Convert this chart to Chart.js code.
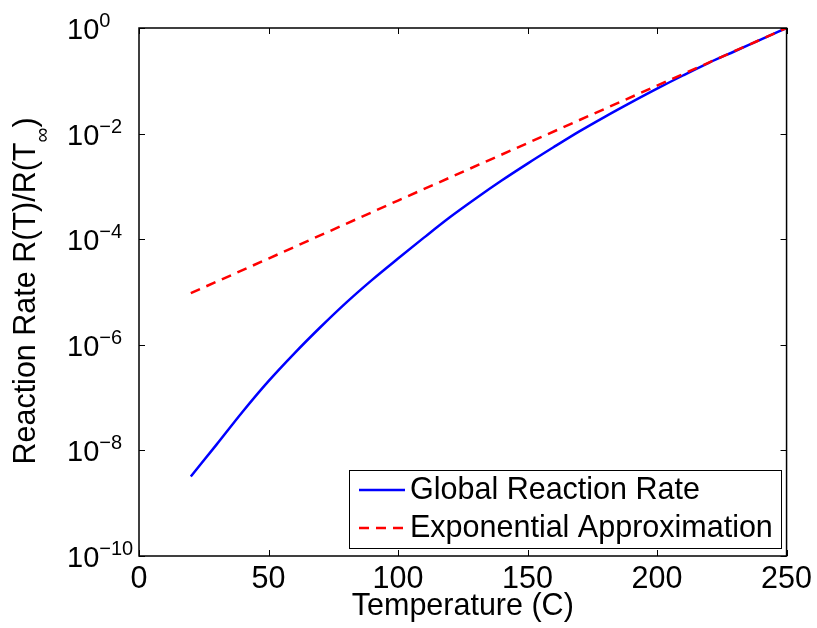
<!DOCTYPE html>
<html lang="en">
<head>
  <meta charset="UTF-8" />
  <title>Reaction Rate</title>
  <script src="https://cdn.jsdelivr.net/npm/chart.js"></script>
  <style>
    body { margin: 0; background: #fff; }
    #wrap { width: 817px; height: 628px; }
  </style>
</head>
<body>

  <div id="wrap"><canvas id="rateChart"></canvas></div>

  <script>
    // values
    const temps = [20, 30, 40, 50, 60, 70, 80, 90, 100, 110, 120, 130, 140, 150, 160, 170, 180, 190, 200, 210, 220, 230, 240, 250];
    const globalRate = [3.2e-9, 1.3e-8, 5.4e-8, 2.05e-7, 6.9e-7, 2.15e-6, 6.3e-6, 1.7e-5, 4.3e-5, 1.07e-4, 2.6e-4, 5.9e-4,
                        1.29e-3, 2.7e-3, 5.5e-3, 1.1e-2, 2.1e-2, 3.9e-2, 7.1e-2, 0.126, 0.219, 0.363, 0.603, 1];
    const approxTemps = [20, 50, 100, 150, 200, 250];
    const approxRate = [9.5e-6, 4.3e-5, 5.4e-4, 6.6e-3, 8.1e-2, 1];
    const xTicks = [0, 50, 100, 150, 200, 250];
    const yExponents = [0, -2, -4, -6, -8, -10];
    const seriesLabels = ['Global Reaction Rate', 'Exponential Approximation'];

    const FONT = '"Liberation Sans", Arial, sans-serif';
    const TXT = 30.5;

    // frame, inside ticks, y labels with exponents, y title and legend
    const matlabLook = {
      id: 'matlabLook',
      afterDraw(chart) {
        const ctx = chart.ctx;
        const a = chart.chartArea;
        const x = chart.scales.x, y = chart.scales.y;
        ctx.save();

        ctx.strokeStyle = '#000';
        ctx.lineWidth = 1;
        const seg = (x1, y1, x2, y2) => { ctx.beginPath(); ctx.moveTo(x1, y1); ctx.lineTo(x2, y2); ctx.stroke(); };
        xTicks.forEach(v => {
          const px = Math.round(x.getPixelForValue(v)) + 0.5;
          seg(px, a.bottom, px, a.bottom - 6);
          seg(px, a.top, px, a.top + 6);
        });
        yExponents.forEach(e => {
          const py = Math.round(y.getPixelForValue(Math.pow(10, e))) + 0.5;
          seg(a.left, py, a.left + 6, py);
          seg(a.right, py, a.right - 6, py);
        });
        ctx.lineWidth = 1.5;
        ctx.strokeRect(a.left, a.top, a.right - a.left, a.bottom - a.top);

        // y tick labels 10^n
        ctx.fillStyle = '#000';
        ctx.textBaseline = 'alphabetic';
        ctx.textAlign = 'left';
        yExponents.forEach(e => {
          const py = y.getPixelForValue(Math.pow(10, e));
          ctx.font = '29px ' + FONT;
          ctx.fillText('10', 67, py + 11);
          const w = ctx.measureText('10').width;
          ctx.font = '20px ' + FONT;
          ctx.fillText(e === 0 ? '0' : '\u2212' + (-e), 67 + w, py - 1);
        });

        // y axis title with subscript infinity
        const mainTxt = 'Reaction Rate R(T)/R(T';
        ctx.font = TXT + 'px ' + FONT;
        const w1 = ctx.measureText(mainTxt).width;
        const w3 = ctx.measureText(')').width;
        ctx.font = '21px ' + FONT;
        const w2 = ctx.measureText('\u221E').width;
        const total = w1 + w2 + w3;
        ctx.translate(35, 291);
        ctx.rotate(-Math.PI / 2);
        ctx.font = TXT + 'px ' + FONT;
        ctx.fillText(mainTxt, -total / 2, 0);
        ctx.font = '21px ' + FONT;
        ctx.fillText('\u221E', -total / 2 + w1, 14);
        ctx.font = TXT + 'px ' + FONT;
        ctx.fillText(')', -total / 2 + w1 + w2, 0);
        ctx.setTransform(1, 0, 0, 1, 0, 0);

        // legend box
        const bx = 349.5, by = 470.5, bw = 432, bh = 78;
        ctx.fillStyle = '#fff';
        ctx.fillRect(bx, by, bw, bh);
        ctx.lineWidth = 1;
        ctx.strokeStyle = '#000';
        ctx.strokeRect(bx, by, bw, bh);
        const rows = [490, 528];
        chart.data.datasets.forEach((ds, i) => {
          ctx.strokeStyle = ds.borderColor;
          ctx.lineWidth = ds.borderWidth;
          ctx.setLineDash(ds.borderDash || []);
          seg(359, rows[i], 405, rows[i]);
          ctx.setLineDash([]);
          ctx.fillStyle = '#000';
          ctx.font = TXT + 'px ' + FONT;
          ctx.textBaseline = 'middle';
          ctx.fillText(ds.label, 410, rows[i] + 1);
        });
        ctx.restore();
      }
    };

    const ctx = document.getElementById('rateChart').getContext('2d');
    const chart = new Chart(ctx, {
      type: 'line',
      data: {
        datasets: [
          {
            label: seriesLabels[0],
            data: temps.map((t, i) => ({ x: t, y: globalRate[i] })),
            borderColor: '#0000ff',
            borderWidth: 2.5,
            pointRadius: 0,
            cubicInterpolationMode: 'monotone',
            fill: false,
            order: 1
          },
          {
            label: seriesLabels[1],
            data: approxTemps.map((t, i) => ({ x: t, y: approxRate[i] })),
            borderColor: '#ff0000',
            borderWidth: 2.5,
            borderDash: [10, 7],
            pointRadius: 0,
            fill: false,
            order: 0
          }
        ]
      },
      options: {
        responsive: true,
        maintainAspectRatio: false,
        animation: false,
        layout: { padding: { top: 28, right: 27, left: 0, bottom: 0 } },
        plugins: {
          legend: { display: false },
          tooltip: { enabled: false }
        },
        scales: {
          x: {
            type: 'linear',
            min: 0,
            max: 250,
            afterFit: s => { s.height = 72; },
            grid: { display: false, drawTicks: false },
            border: { display: false },
            ticks: { stepSize: 50, padding: 5, color: '#000', font: { family: FONT, size: TXT } },
            title: { display: true, text: 'Temperature (C)', color: '#000', font: { family: FONT, size: TXT }, padding: { top: 0, bottom: 3 } }
          },
          y: {
            type: 'logarithmic',
            min: 1e-10,
            max: 1,
            afterFit: s => { s.width = 139; },
            afterBuildTicks: s => { s.ticks = yExponents.map(e => ({ value: Math.pow(10, e) })); },
            grid: { display: false, drawTicks: false },
            border: { display: false },
            ticks: { display: false }
          }
        }
      },
      plugins: [matlabLook]
    });
  </script>
</body>
</html>
